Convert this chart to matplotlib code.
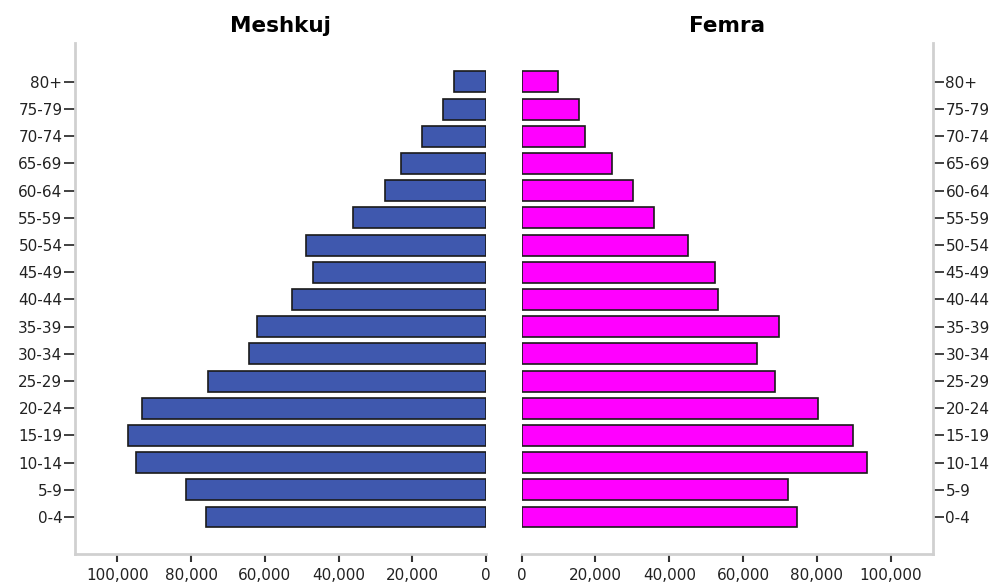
import matplotlib
matplotlib.use("Agg")
import matplotlib.pyplot as plt
from matplotlib.ticker import FuncFormatter

# age groups, youngest first
age_groups = ['0-4', '5-9', '10-14', '15-19', '20-24', '25-29', '30-34', '35-39',
              '40-44', '45-49', '50-54', '55-59', '60-64', '65-69', '70-74',
              '75-79', '80+']
# population values
meshkuj = [76000, 81500, 95000, 97200, 93400, 75400, 64200, 62000,
           52700, 47000, 48800, 36200, 27300, 23000, 17400, 11700, 8600]
femra = [74500, 72300, 93500, 89700, 80400, 68600, 63700, 69800,
         53100, 52400, 45100, 35900, 30200, 24600, 17100, 15600, 9900]
x_ticks = [0, 20000, 40000, 60000, 80000, 100000]

plt.rcParams['font.family'] = ['DejaVu Sans']
fig = plt.figure(figsize=(9.97, 5.86), dpi=100)
ax_m = fig.add_axes([0.0752, 0.0546, 0.4122, 0.872])
ax_f = fig.add_axes([0.5233, 0.0546, 0.4125, 0.872])

pos = list(range(len(age_groups)))
spine_col = '#d0d0d0'
fmt = FuncFormatter(lambda v, p: '{:,.0f}'.format(v))

ax_m.barh(pos, meshkuj, height=0.77, color='#3f58ae', edgecolor='#1a1a1a', linewidth=1.2)
ax_f.barh(pos, femra, height=0.77, color='#ff00ff', edgecolor='#1a1a1a', linewidth=1.2)

for ax in (ax_m, ax_f):
    ax.set_ylim(-1.36, 17.43)
    ax.set_yticks(pos)
    ax.set_yticklabels(age_groups)
    ax.set_xticks(x_ticks)
    ax.xaxis.set_major_formatter(fmt)
    ax.spines['top'].set_visible(False)
    ax.spines['bottom'].set_color(spine_col)
    ax.spines['bottom'].set_linewidth(2)
    ax.tick_params(axis='x', length=6, width=1.5, color='#333333', labelsize=11,
                   labelcolor='#222222', pad=4)
    ax.tick_params(axis='y', length=8, width=1.3, color='#333333', labelsize=11,
                   labelcolor='#222222', pad=1)

ax_m.set_xlim(111500, 0)
ax_m.spines['right'].set_visible(False)
ax_m.spines['left'].set_color(spine_col)
ax_m.spines['left'].set_linewidth(2)
ax_m.set_title('Meshkuj', fontsize=15.5, fontweight='bold', pad=8)

ax_f.set_xlim(0, 111500)
ax_f.spines['left'].set_visible(False)
ax_f.spines['right'].set_color(spine_col)
ax_f.spines['right'].set_linewidth(2)
ax_f.yaxis.tick_right()
ax_f.set_title('Femra', fontsize=15.5, fontweight='bold', pad=8)

fig.savefig('out.png', dpi=100)
